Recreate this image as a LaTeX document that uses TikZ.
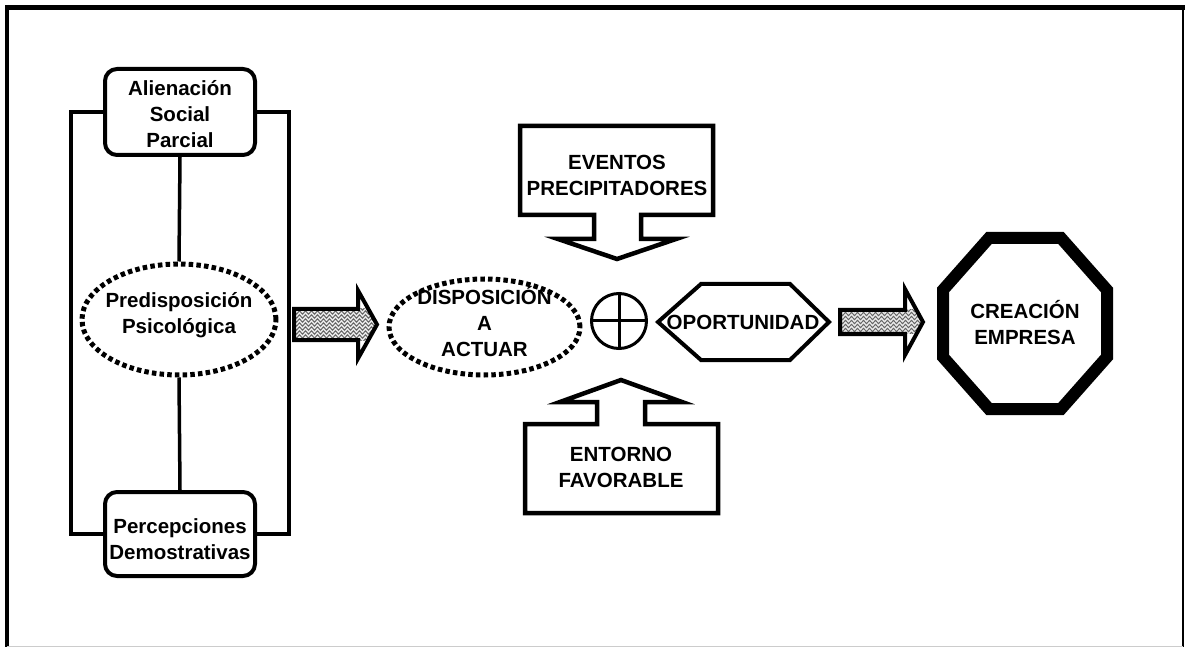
\documentclass[tikz,border=0pt]{standalone}
\usepackage{fontspec}
\setmainfont{Liberation Sans}
\usetikzlibrary{shapes.geometric,calc,decorations.pathmorphing}

\tikzset{
  lbl/.style={font=\bfseries\fontsize{20.5}{26}\selectfont, align=center, inner sep=0pt},
  roundbox/.style={draw, line width=4pt, rounded corners=12pt, minimum width=150pt, inner sep=0pt},
  dotring/.style={draw, ellipse, line width=5pt, dash pattern=on 4.5pt off 3.2pt, inner sep=0pt},
  link/.style={line width=3.5pt},
  bigarrow/.style={draw, line width=4.5pt, miter limit=20},
  fatarrow/.style={line width=4pt, miter limit=20},
  zig/.style={black!60, line width=1pt, decorate,
    decoration={zigzag, segment length=6pt, amplitude=1.7pt}},
}

% outline of a hatched block arrow: #1 tail x, #2 head base x, #3 tip x,
% #4 centre y, #5 shaft half height, #6 head half height
\newcommand\fatoutline[6]{(#1,#4-#5) -- (#2,#4-#5) -- (#2,#4-#6) -- (#3,#4)
  -- (#2,#4+#6) -- (#2,#4+#5) -- (#1,#4+#5) -- cycle}
\newcommand\hatcharrow[6]{%
  \begin{scope}
    \clip \fatoutline{#1}{#2}{#3}{#4}{#5}{#6};
    \clip (#1,#4-#5) rectangle (#3,#4+#5);
    \fill[gray!15] (#1,#4-#6) rectangle (#3,#4+#6);
    \foreach \k in {-4,...,4}
      \draw[zig] (#1-2,#4+\k*4) -- (#3+2,#4+\k*4);
  \end{scope}
  \draw[fatarrow] \fatoutline{#1}{#2}{#3}{#4}{#5}{#6};
}

\begin{document}
\begin{tikzpicture}[x=1pt,y=-1pt]
\useasboundingbox (0,0) rectangle (1187,647);

% outer frame
\draw[line width=5pt] (5,7.5) -- (1185,7.5);
\draw[line width=4pt] (7,5) -- (7,647);
\draw[line width=2pt] (1183,7) -- (1183,647);
\draw[gray!40, line width=1pt] (7,646.5) -- (1183,646.5);

% left column
\node[roundbox, minimum height=86pt] (asp) at (180,112) {};
\node[lbl] at (180,114) {Alienación\\Social\\Parcial};
\node[roundbox, minimum height=84pt] (pdm) at (180,534) {};
\node[lbl] at (180,539) {Percepciones\\Demostrativas};
\node[dotring, minimum width=194pt, minimum height=111pt] (pre) at (179,319.5) {};
\node[lbl] at (179,315) {Predisposición\\Psicológica};

\draw[link] (asp.south) -- (pre.north);
\draw[link] (pre.south) -- (pdm.north);
\draw[link] (asp.west) -- ++(-32,0) coordinate (bl) |- (pdm.west);
\draw[link] (asp.east) -- ++(32,0) coordinate (br) |- (pdm.east);

% first hatched arrow
\hatcharrow{294}{358}{377}{324.5}{15.5}{34}

% disposition
\node[dotring, minimum width=191pt, minimum height=96pt] (dis) at (484.5,327) {};
\node[lbl] at (484.5,322) {DISPOSICIÓN\\A\\ACTUAR};

% combining circle
\node[draw, circle, line width=3pt, minimum size=55pt, inner sep=0pt] (plus) at (619,321) {};
\draw[line width=3pt] (plus.north) -- (plus.south);
\draw[line width=3pt] (plus.west) -- (plus.east);

% precipitating events, pointing down
\draw[bigarrow] (520,126) -- (713,126) -- (713,215) -- (641,215) -- (641,239)
  -- (676,239) -- (617,259) -- (558,239) -- (594,239) -- (594,215) -- (520,215) -- cycle;
\node[lbl] (eve) at (617,175) {EVENTOS\\PRECIPITADORES};

% favourable environment, pointing up
\draw[bigarrow] (525,513) -- (718,513) -- (718,424) -- (645,424) -- (645,402)
  -- (682,402) -- (621,380) -- (560,402) -- (597,402) -- (597,424) -- (525,424) -- cycle;
\node[lbl] (ent) at (621,467) {ENTORNO\\FAVORABLE};

% opportunity hexagon
\draw[line width=4pt, miter limit=20] (658,322) -- (701,284) -- (790,284) -- (829,322)
  -- (790,360) -- (701,360) -- cycle;
\node[lbl] (opo) at (743,322) {OPORTUNIDAD};

% second hatched arrow
\hatcharrow{840}{905}{923}{322}{12}{33}

% company creation octagon
\draw[line width=12pt, miter limit=20] (989,238) -- (1061,238) -- (1107,290) -- (1107,357)
  -- (1061,409) -- (989,409) -- (943,357) -- (943,290) -- cycle;
\node[lbl] (cre) at (1025,323) {CREACIÓN\\EMPRESA};
\end{tikzpicture}
\end{document}
